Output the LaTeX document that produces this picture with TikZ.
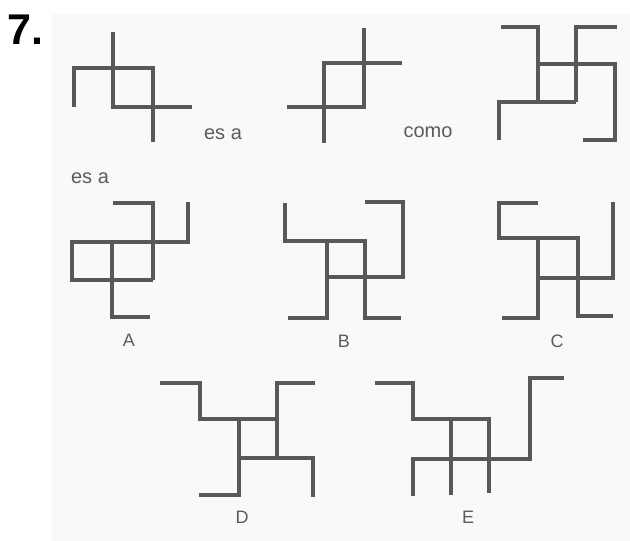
\documentclass[tikz,border=0pt]{standalone}
\usepackage{fontspec}
\setmainfont{Liberation Sans}
\usepackage{xcolor}
\usepackage{tikz}
\definecolor{clrLine}{RGB}{88,88,88}
\definecolor{clrText}{RGB}{92,92,92}
\definecolor{clrPaper}{RGB}{249,249,249}

\begin{document}
\begin{tikzpicture}[
  x=1pt, y=-1pt,
  fig/.style={draw=clrLine, line width=3.6pt, line join=miter, line cap=butt},
  word/.style={anchor=base, inner sep=0pt, text=clrText,
               font=\fontsize{20}{24}\selectfont},
  letter/.style={anchor=base, inner sep=0pt, text=clrText,
                 font=\fontsize{18}{22}\selectfont},
  numlbl/.style={anchor=base west, inner sep=0pt,
                 font=\fontsize{43}{50}\selectfont\bfseries}
]
\useasboundingbox (0,0) rectangle (630,541);
\fill[clrPaper] (52,14) rectangle (630,541);

% number and words
\node[numlbl] (num) at (7,44) {7.};
\node[word] (esa1) at (223,139) {es a};
\node[word] (como) at (428,137) {como};
\node[word] (esa2) at (90,183)  {es a};

% top row
\draw[fig] (113,32) -- (113,107) -- (192,107);
\draw[fig] (74,107) -- (74,68) -- (153,68) -- (153,142);

\draw[fig] (364,28) -- (364,107) -- (287,107);
\draw[fig] (324,143) -- (324,63) -- (402,63);

\draw[fig] (501,27) -- (538,27) -- (538,102);
\draw[fig] (617,27) -- (576,27) -- (576,102);
\draw[fig] (538,64) -- (615,64) -- (615,140) -- (583,140);
\draw[fig] (499,140) -- (499,102) -- (576,102);

% A
\draw[fig] (113,203) -- (153,203) -- (153,280);
\draw[fig] (188,202) -- (188,242) -- (72,242) -- (72,280) -- (153,280);
\draw[fig] (112,242) -- (112,317) -- (150,317);
\node[letter] (lblA) at (129,346) {A};

% B
\draw[fig] (285,203) -- (285,241) -- (365,241) -- (365,318) -- (401,318);
\draw[fig] (288,318) -- (327,318) -- (327,241);
\draw[fig] (365,202) -- (403,202) -- (403,277) -- (327,277);
\node[letter] (lblB) at (344,347) {B};

% C
\draw[fig] (538,203) -- (499,203) -- (499,238) -- (578,238) -- (578,316) -- (613,316);
\draw[fig] (538,238) -- (538,318) -- (502,318);
\draw[fig] (613,202) -- (613,278) -- (538,278);
\node[letter] (lblC) at (557,347) {C};

% D
\draw[fig] (160,383) -- (200,383) -- (200,419) -- (277,419);
\draw[fig] (315,383) -- (277,383) -- (277,458);
\draw[fig] (199,495) -- (239,495) -- (239,419);
\draw[fig] (239,458) -- (313,458) -- (313,497);
\node[letter] (lblD) at (242,523) {D};

% E
\draw[fig] (375,383) -- (413,383) -- (413,419) -- (489,419) -- (489,493);
\draw[fig] (451,419) -- (451,495);
\draw[fig] (413,496) -- (413,459) -- (530,459) -- (530,378) -- (564,378);
\node[letter] (lblE) at (468,523) {E};

\end{tikzpicture}
\end{document}
